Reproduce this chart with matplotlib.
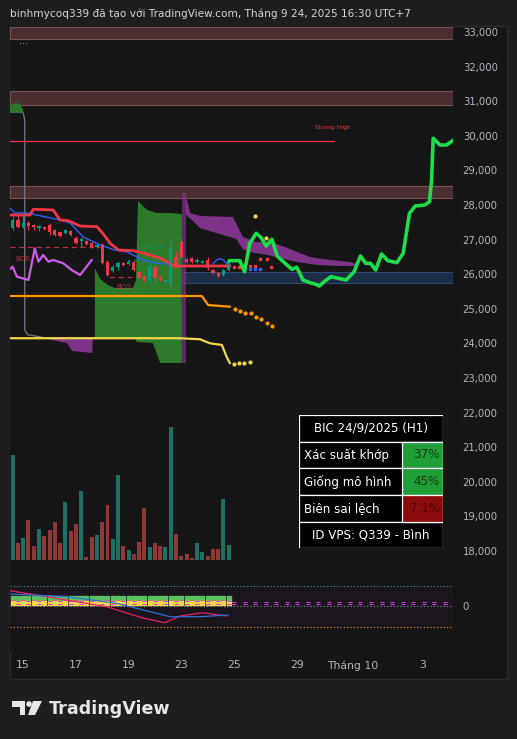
import numpy as np
import matplotlib.pyplot as plt
from matplotlib.patches import Rectangle, Polygon, Circle

# ---- hourly candles (BIC, H1) ----
opens  = [27340, 27570, 27360, 27480, 27420, 27330, 27370, 27420, 27280, 27230,
          27190, 27260, 27050, 26970, 26960, 26890, 26790, 26840, 26360, 26100,
          26200, 26330, 26300, 26360, 26050, 25960, 25830, 26220, 25930, 25780,
          25690, 26500, 26940, 26430, 26460, 26340, 26330, 26410, 26120, 26030,
          25980, 26120]
highs  = [27680, 27700, 27710, 27540, 27450, 27420, 27390, 27480, 27300, 27250,
          27310, 27280, 27100, 27080, 26990, 26920, 26860, 26900, 26400, 26260,
          26370, 26360, 26380, 26390, 26080, 25990, 26320, 26270, 25960, 25860,
          26990, 26650, 27050, 26470, 26490, 26470, 26400, 26500, 26150, 26060,
          26150, 26450]
lows   = [27280, 27330, 27330, 27280, 27280, 27250, 27280, 27130, 27110, 27080,
          27160, 27110, 26870, 26790, 26850, 26770, 26770, 26300, 25950, 26060,
          26120, 26240, 26280, 26100, 25880, 25800, 25770, 25770, 25810, 25760,
          25540, 26220, 26470, 26330, 26330, 26310, 26310, 26120, 26000, 25930,
          25950, 26100]
closes = [27570, 27360, 27480, 27390, 27360, 27380, 27310, 27230, 27130, 27100,
          27280, 27130, 26900, 27010, 26870, 26790, 26830, 26320, 25980, 26220,
          26320, 26270, 26350, 26120, 25900, 25830, 26220, 25890, 25830, 25830,
          26790, 26270, 26500, 26360, 26360, 26420, 26380, 26170, 26030, 25950,
          26120, 26410]
volumes = [210, 35, 45, 81, 29, 62, 49, 61, 76, 35, 116, 58, 72, 138, 7, 47, 51, 76,
           110, 43, 170, 29, 21, 13, 37, 105, 27, 35, 29, 27, 266, 53, 9, 13, 5, 35,
           17, 9, 23, 23, 123, 30]

# ---- indicator lines (bar index, price) ----
red_x = [0, 3.8, 4.4, 8.2, 9.5, 11.1, 13.3, 16.5, 17.7, 19.0, 20.6, 23.4, 25.9, 28.5, 29.7, 31.0, 41.7]
red_y = [27711, 27711, 27876, 27856, 27567, 27546, 27393, 27373, 27162, 26893, 26700, 26680,
         26584, 26460, 26362, 26237, 26237]
blue_x = [0, 0.95, 3.2, 9.5, 11.4, 13.9, 17.1, 19.9, 22.1, 25.3, 27.8, 29.7, 30.9]
blue_y = [27914, 27770, 27770, 27567, 27480, 27076, 26844, 26700, 26651, 26411, 26316, 26296, 26267]
blue2_x = [38.5, 39.2, 39.8, 40.5, 41.2]
blue2_y = [26296, 26410, 26448, 26410, 26296]
purple_x = [0, 0.5, 1.3, 3.5, 4.7, 5.4, 6.3, 7.3, 8.2, 10.1, 11.7, 13.3, 15.5]
purple_y = [26151, 26217, 25928, 25833, 26749, 26362, 26555, 26362, 26411, 26316, 26122, 25977, 26411]
orange_x = [0, 36.4, 37.6, 41.7]
orange_y = [25370, 25370, 25110, 25060]
orange_dots_x = [42.6, 43.6, 44.6, 45.7, 46.7, 47.6, 48.7, 49.7]
orange_dots_y = [24985, 24945, 24870, 24870, 24770, 24700, 24600, 24510]
yellow_x = [0, 32.3, 36.05, 37.95, 40.2, 41.1, 41.7]
yellow_y = [24150, 24150, 24120, 24003, 23955, 23616, 23434]
yellow_dots_x = [42.5, 43.5, 44.4, 45.5]
yellow_dots_y = [23405, 23420, 23434, 23463]
grey_x = [2.5, 2.8, 2.8, 3.4, 3.8, 7.0, 32.3]
grey_y = [30659, 30457, 24388, 24243, 24243, 24150, 24150]

# projected path (green)
proj_x = [41.7, 43.6, 44.5, 45.5, 46.7, 47.6, 48.6, 49.7, 50.7, 52.2, 53.5, 54.4, 55.6, 56.9,
          57.9, 58.7, 59.6, 60.9, 62.3, 63.8, 65.3, 66.5, 67.5, 68.4, 69.4, 70.5, 71.7, 73.4,
          74.6, 75.8, 76.9, 78.7, 79.6, 80.0, 80.3, 81.6, 82.8, 84.0]
proj_y = [26391, 26391, 26073, 26893, 27182, 27067, 26815, 27009, 26526, 26315, 26142, 26200,
          25833, 25755, 25717, 25659, 25784, 25928, 25882, 25833, 26073, 26526, 26315, 26315,
          26122, 26584, 26391, 26333, 26604, 27760, 27971, 28000, 28096, 28723, 29928, 29734,
          29734, 29858]

# clouds
green_cloud_top = [(16.1, 26180), (17.1, 25862), (18.6, 25688), (19.9, 25602), (23.3, 25602),
                   (23.9, 25833), (24.3, 28116), (26.0, 27856), (27.9, 27770), (30.4, 27770),
                   (32.6, 27740)]
green_cloud_bot = [(32.6, 23434), (28.5, 23434), (27.1, 24012), (24.1, 24041), (23.7, 24128),
                   (16.1, 24128)]
purple_cloud_top = [(33.2, 28347), (34.2, 27769), (36.1, 27682), (42.3, 27654), (44.2, 27076),
                    (46.7, 26931), (49.9, 26902), (52.2, 26786), (54.5, 26642), (56.9, 26498),
                    (60.7, 26411), (64.5, 26353), (65.8, 26296)]
purple_cloud_bot = [(65.8, 26238), (62.6, 26238), (58.3, 26267), (54.5, 26353), (51.2, 26469),
                    (48.8, 26555), (45.5, 26642), (44.2, 26729), (42.9, 27020), (39.8, 27160),
                    (36.1, 27330), (34.7, 27540), (33.4, 27711)]
purple_left = [(7.0, 24128), (15.7, 24128), (15.6, 23723), (11.8, 23781), (10.8, 24012)]
green_blob = [(0, 30659), (0, 30861), (0.95, 30948), (1.9, 30919), (2.5, 30746), (2.5, 30659)]

# supply / demand zones (price low, price high, x start)
zones = [(32800, 33150, 0), (30890, 31295, 0), (28203, 28549, 0)]
demand_zone = (25746, 26064, 25.2)
strong_high = 29850
strong_high_end = 61.5

# pivot dots
red_dots_x = [42.5, 43.5, 45.5, 46.5, 47.4, 48.7, 49.5]
red_dots_y = [26217, 26217, 26238, 26238, 26431, 26431, 26200]
blue_dots_x = [45.5, 46.5, 47.4]
blue_dots_y = [26142, 26142, 26142]
ydot_x = [46.5, 48.6]
ydot_y = [27682, 27038]

# oscillator pane
osc_pink_x = [0, 18.3, 25.2, 29.4, 32.3, 36.6, 41.1]
osc_pink_y = [15.3, -0.7, -12, -16.7, -10, -6.7, -10]
osc_blue_x = [0, 10.8, 20.2, 26.6, 30.4, 36.1, 41.4]
osc_blue_y = [12, 9.3, 2.7, -5.7, -10.7, -10.7, -9]

# x labels
tick_pos = [2.47, 12.52, 22.58, 32.45, 42.5, 54.46, 65.09, 78.37]
tick_lab = ['15', '17', '19', '23', '25', '29', 'Tháng 10', '3']

# table
table_title = 'BIC 24/9/2025 (H1)'
table_rows = [('Xác suất khớp', '37%'), ('Giống mô hình', '45%'), ('Biên sai lệch', '7.1%')]
table_footer = 'ID VPS: Q339 - Bình'

UP = '#089981'
DN = '#f23645'
BG = '#161616'
TXT = '#b2b5be'

W, H = 517, 739
fig = plt.figure(figsize=(W / 100, H / 100), dpi=100)
fig.patch.set_facecolor('#1e1e1e')

def fr(x0, y0, x1, y1):
    return [x0 / W, 1 - y1 / H, (x1 - x0) / W, (y1 - y0) / H]

# panel behind everything
fig.patches.append(Rectangle((10 / W, 1 - 679 / H), 497 / W, 653 / H, transform=fig.transFigure,
                             facecolor=BG, edgecolor='#2c2c2c', lw=1, zorder=-5))

fig.text(10 / W, 1 - 14 / H, 'binhmycoq339 đã tạo với TradingView.com, Tháng 9 24, 2025 16:30 UTC+7',
         color='#d1d4dc', fontsize=7.6, va='center', ha='left')

ax = fig.add_axes(fr(10, 26, 453, 560))
ax.set_facecolor(BG)
ax.set_xlim(0, 84.06)
ax.set_ylim(17741, 33173)
for s in ax.spines.values():
    s.set_visible(False)
ax.set_xticks([])

# volume on a twin axis
axv = ax.twinx()
axv.set_ylim(0, 1068)
axv.set_xlim(0, 84.06)
axv.axis('off')

ax.yaxis.tick_right()
ax.set_yticks(range(18000, 33001, 1000))
ax.set_yticklabels([f'{v:,}' for v in range(18000, 33001, 1000)])
ax.tick_params(axis='y', length=0, pad=7, labelsize=7.3, colors=TXT,
               labelright=True, labelleft=False, left=False)

# zones
for lo, hi, xs in zones:
    ax.add_patch(Rectangle((xs, lo), 84.06 - xs, hi - lo, facecolor='#4a2f30', edgecolor='#7a5252',
                           lw=0.8, zorder=1))
lo, hi, xs = demand_zone
ax.add_patch(Rectangle((xs, lo), 84.06 - xs, hi - lo, facecolor='#1d2f47', edgecolor='#2f4d78',
                       lw=0.8, zorder=1, alpha=0.95))

# clouds
ax.add_patch(Polygon(green_cloud_top + green_cloud_bot, closed=True, facecolor='#2c7a2a',
                     edgecolor='none', zorder=2))
ax.add_patch(Polygon(purple_cloud_top + purple_cloud_bot, closed=True, facecolor='#7d3388',
                     edgecolor='none', zorder=2))
ax.add_patch(Rectangle((32.6, 23434), 0.8, 28347 - 23434, facecolor='#7d3388', alpha=0.7,
                       edgecolor='none', zorder=2))
ax.add_patch(Polygon(purple_left, closed=True, facecolor='#7d3388', edgecolor='none', zorder=2))
ax.add_patch(Polygon(green_blob, closed=True, facecolor='#2c7a2a', edgecolor='none', zorder=2))
ax.plot(grey_x, grey_y, color='#787b86', lw=0.9, zorder=3)

# strong high
ax.plot([0, strong_high_end], [strong_high, strong_high], color=DN, lw=0.9, zorder=3)
ax.text(strong_high_end - 0.2, strong_high + 380, 'Strong High', color=DN, fontsize=4.3,
        ha='center', va='center', zorder=3)

# structure labels
ax.plot([0, 17.1], [26795, 26795], color=DN, lw=0.9, ls=(0, (4, 3)), alpha=0.8, zorder=3)
ax.plot([18.6, 18.6, 23.3], [26370, 25928, 25928], color=DN, lw=0.9, ls=(0, (4, 3)), alpha=0.8, zorder=3)
ax.plot([22.4, 22.4, 29.8], [26330, 26411, 26411], color=UP, lw=0.9, ls=(0, (4, 3)), alpha=0.8, zorder=3)
ax.text(2.5, 26450, 'BOS', color=DN, alpha=0.75, fontsize=5.2, ha='center', va='center', zorder=3)
ax.text(21.6, 25630, 'BOS', color=DN, alpha=0.75, fontsize=5.2, ha='center', va='center', zorder=3)
ax.text(26.4, 26790, 'CHoCH', color=UP, alpha=0.75, fontsize=5.2, ha='center', va='center', zorder=3)

# lines
ax.plot(orange_x, orange_y, color='#ff9800', lw=1.6, zorder=3)
ax.plot(orange_dots_x, orange_dots_y, ls='none', marker='o', ms=2, color='#ff9800', zorder=3)
ax.plot(yellow_x, yellow_y, color='#f5d84a', lw=1.6, zorder=3)
ax.plot(yellow_dots_x, yellow_dots_y, ls='none', marker='o', ms=2, color='#f5d84a', zorder=3)
ax.plot(purple_x, purple_y, color='#cc5de8', lw=1.6, zorder=3)
ax.plot(blue_x, blue_y, color='#2962ff', lw=1.0, zorder=3)
ax.plot(blue2_x, blue2_y, color='#2962ff', lw=1.0, zorder=3)
ax.plot(red_x, red_y, color=DN, lw=2.0, zorder=3)

# candles
xs_c = np.arange(len(opens)) + 0.5
cols = [UP if c >= o else DN for o, c in zip(opens, closes)]
ax.vlines(xs_c, lows, highs, colors=cols, lw=0.8, zorder=4)
bot = [min(o, c) for o, c in zip(opens, closes)]
hgt = [max(abs(c - o), 20) for o, c in zip(opens, closes)]
ax.bar(xs_c, hgt, bottom=bot, width=0.62, color=cols, zorder=4)

# dots
ax.plot(red_dots_x, red_dots_y, ls='none', marker='s', ms=2, color=DN, zorder=4)
ax.plot(blue_dots_x, blue_dots_y, ls='none', marker='s', ms=2, color='#2962ff', zorder=4)
ax.plot(ydot_x, ydot_y, ls='none', marker='o', ms=2, color='#f5d84a', zorder=4)

# projection
ax.plot(proj_x, proj_y, color='#1fdc4a', lw=2.6, zorder=5, solid_joinstyle='round')

ax.text(1.8, 32650, '···', color=TXT, fontsize=7, ha='left', va='center')

vcols = ['#216e64' if c == UP else '#8e3838' for c in cols]
axv.bar(xs_c, volumes, width=0.75, color=vcols)

# oscillator
ax2 = fig.add_axes(fr(10, 561, 453, 652))
ax2.set_facecolor(BG)
ax2.set_xlim(0, 84.06)
ax2.set_ylim(-46, 45)
for s in ax2.spines.values():
    s.set_visible(False)
ax2.axhspan(-21, 20, xmin=0, xmax=1, color='#1b161d', zorder=0)
ax2.axhline(20, color='#26a69a', lw=0.8, ls=(0, (1, 2)))
ax2.axhline(0, color='#9598a1', lw=0.8, ls=(0, (1, 2)))
ax2.axhline(-21, color='#ff9800', lw=0.8, ls=(0, (1, 2)))
sq_x = xs_c
ax2.plot(sq_x, [8] * len(sq_x), ls='none', marker='s', ms=3.4, color='#5cbf60')
ax2.plot(sq_x[::2], [3] * len(sq_x[::2]), ls='none', marker='s', ms=3.4, color='#f2d64b')
ax2.plot(sq_x[1::2], [3] * len(sq_x[1::2]), ls='none', marker='s', ms=3.4, color='#f2d64b')
ax2.plot(sq_x[1::2], [4.6] * len(sq_x[1::2]), ls='none', marker='_', ms=2.6, mew=0.7, color='#d63ad8')
ax2.plot(sq_x[1::2], [1.6] * len(sq_x[1::2]), ls='none', marker='_', ms=2.6, mew=0.7, color='#d63ad8')
ax2.plot(sq_x[::2], [6] * len(sq_x[::2]), ls='none', marker='_', ms=2.6, mew=0.7, color='#e05a7a')
fx = np.arange(42.5, 84, 2.0)
ax2.plot(fx, [4.5] * len(fx), ls='none', marker='_', ms=3, mew=0.8, color='#c33fd6')
ax2.plot(fx, [1.8] * len(fx), ls='none', marker='_', ms=3, mew=0.8, color='#c33fd6')
ax2.plot(osc_pink_x, osc_pink_y, color='#e91e63', lw=0.9)
ax2.plot(osc_blue_x, osc_blue_y, color='#2f6fd6', lw=0.9)
ax2.yaxis.tick_right()
ax2.set_yticks([0])
ax2.set_yticklabels(['0'])
ax2.tick_params(axis='y', length=0, pad=7, labelsize=7.3, colors=TXT)
ax2.set_xticks(tick_pos)
ax2.set_xticklabels(tick_lab)
ax2.tick_params(axis='x', length=0, pad=6, labelsize=7.8, colors=TXT)

# table
axt = fig.add_axes(fr(299, 415, 443, 548))
axt.set_xlim(0, 144)
axt.set_ylim(133, 0)
axt.axis('off')
row_edges = [0, 26.7, 53.3, 80, 107.3, 133]
for i in range(5):
    y0, y1 = row_edges[i], row_edges[i + 1]
    axt.add_patch(Rectangle((0, y0), 144, y1 - y0, facecolor='black', edgecolor='white', lw=0.9))
axt.text(72, row_edges[0] + 13.3, table_title, color='white', fontsize=8.6, ha='center', va='center')
cell_col = ['#1f9e38', '#1f9e38', '#8c0b0b']
txt_col = ['#0b3d14', '#0b3d14', '#4a0505']
for i, (lab, val) in enumerate(table_rows):
    y0, y1 = row_edges[i + 1], row_edges[i + 2]
    axt.add_patch(Rectangle((103, y0), 41, y1 - y0, facecolor=cell_col[i], edgecolor='white', lw=0.9))
    axt.text(5, (y0 + y1) / 2, lab, color='white', fontsize=8.6, ha='left', va='center')
    axt.text(141, (y0 + y1) / 2, val, color=txt_col[i], fontsize=8.6, ha='right', va='center')
axt.text(72, (row_edges[4] + row_edges[5]) / 2, table_footer, color='white', fontsize=8.6,
         ha='center', va='center')

# TradingView logo
axl = fig.add_axes(fr(0, 690, 200, 730))
axl.set_xlim(0, 200)
axl.set_ylim(730, 690)
axl.axis('off')
lc = '#e6e6e6'
axl.add_patch(Polygon([(12, 701), (25, 701), (25, 715), (19.5, 715), (19.5, 707), (12, 707)],
                      closed=True, facecolor=lc, edgecolor='none'))
axl.add_patch(Circle((29, 704), 2.8, facecolor=lc, edgecolor='none'))
axl.add_patch(Polygon([(33, 701), (42, 701), (35, 715), (28, 715)], closed=True,
                      facecolor=lc, edgecolor='none'))
axl.text(49, 708.5, 'TradingView', color=lc, fontsize=12.6, fontweight='bold',
         ha='left', va='center')

fig.savefig('out.png', dpi=100, facecolor=fig.get_facecolor())
